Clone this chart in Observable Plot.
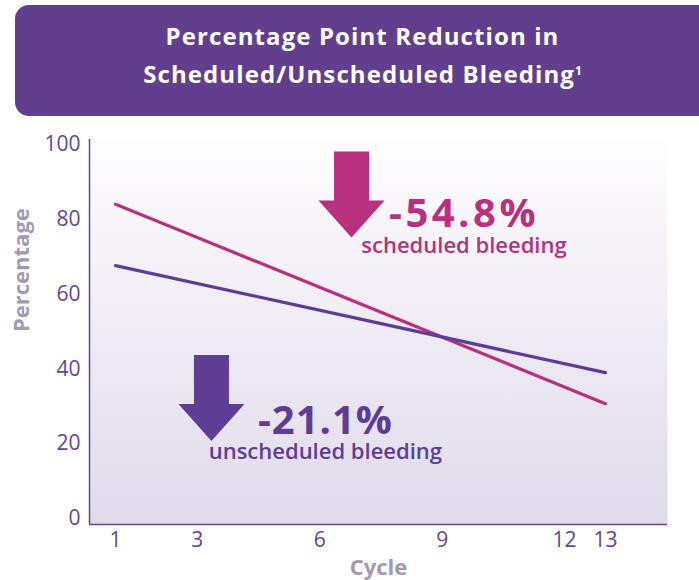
<!DOCTYPE html>
<html>
<head>
<meta charset="utf-8">
<script src="https://cdn.jsdelivr.net/npm/d3@7"></script>
<script src="https://cdn.jsdelivr.net/npm/@observablehq/plot@0.6"></script>
<style>
  html, body { margin: 0; padding: 0; background: #ffffff; }
  #wrap { position: relative; width: 699px; height: 580px; overflow: hidden; font-family: "Open Sans", sans-serif; }
  #chart { position: absolute; left: 0; top: 0; }
  #banner {
    position: absolute; left: 15px; top: 5px; width: 695px; height: 111px;
    background: #623F8E; border-radius: 14px 0 0 14px; color: #ffffff;
    font-family: "Open Sans", sans-serif; font-weight: 700; font-size: 24px; letter-spacing: 1.1px;
    text-align: center; line-height: 38px; box-sizing: border-box; padding-top: 12px;
  }
  #banner sup { font-size: 12px; vertical-align: top; position: relative; top: -3px; letter-spacing: 0; }
</style>
</head>
<body>
<div id="wrap">
  <div id="chart"></div>
  <div id="banner">
    <div>Percentage Point Reduction in</div>
    <div>Scheduled/Unscheduled Bleeding<sup>1</sup></div>
  </div>
</div>
<script>
// ---- data ----
const cycles = [1, 13];
const scheduledPct = [84.0, 30.7];
const unscheduledPct = [67.6, 39.0];
const seriesNames = ["scheduled bleeding", "unscheduled bleeding"];
const seriesColors = ["#B7317F", "#5E3D94"];
const changeLabels = ["-54.8%", "-21.1%"];
const changeSpacing = ["3.5px", "1px"];
const xTicks = [1, 3, 6, 9, 12, 13];
const yTicks = [0, 20, 40, 60, 80, 100];

// annotation anchors (data units)
const arrowX = [6.78, 3.35];
const arrowY = [86.6, 32.2];
const labelX = [9.535, 6.14];
const bigLabelY = [77.8, 22.7];
const smallLabelY = [70.9, 15.8];

const xDomain = [0.363, 14.52];
const yDomain = [-1.6, 101.3];

// ---- build tables ----
const lineData = [];
cycles.forEach((c, i) => {
  lineData.push({cycle: c, pct: scheduledPct[i], series: seriesNames[0]});
  lineData.push({cycle: c, pct: unscheduledPct[i], series: seriesNames[1]});
});
const annos = seriesNames.map((s, i) => ({
  series: s, color: seriesColors[i], change: changeLabels[i],
  ax: arrowX[i], ay: arrowY[i], lx: labelX[i], by: bigLabelY[i], sy: smallLabelY[i]
}));

const blockArrow = {
  draw(ctx) {
    ctx.moveTo(-17.5, -43);
    ctx.lineTo(17.5, -43);
    ctx.lineTo(17.5, 6);
    ctx.lineTo(33, 6);
    ctx.lineTo(0, 43);
    ctx.lineTo(-33, 6);
    ctx.lineTo(-17.5, 6);
    ctx.closePath();
  }
};

const axisColor = "#654599";
const titleGray = "#A29AB3";

const chart = Plot.plot({
  width: 699,
  height: 580,
  marginTop: 139,
  marginBottom: 56,
  marginLeft: 89,
  marginRight: 32,
  style: {fontFamily: "Open Sans, sans-serif", background: "transparent", overflow: "visible"},
  x: {domain: xDomain, axis: null},
  y: {domain: yDomain, axis: null},
  color: {domain: seriesNames, range: seriesColors},
  marks: [
    Plot.frame({fill: "url(#bgGrad)", stroke: null}),
    Plot.axisX({ticks: xTicks, tickSize: 0, tickPadding: 8, fontSize: 21, fill: axisColor, label: null, tickFormat: d => String(d)}),
    Plot.axisY({ticks: yTicks, tickSize: 0, tickPadding: 9, fontSize: 21, fill: axisColor, label: null, tickFormat: d => String(d)}),
    Plot.ruleX([xDomain[0]], {stroke: axisColor, strokeWidth: 1.5}),
    Plot.ruleY([yDomain[0]], {stroke: axisColor, strokeWidth: 1.5}),
    Plot.line(lineData, {x: "cycle", y: "pct", z: "series", stroke: "series", strokeWidth: 3.2}),
    Plot.dot(annos, {x: "ax", y: "ay", symbol: blockArrow, fill: "color", stroke: null, r: 10}),
    Plot.text(annos, {x: "lx", y: "by", text: "change", fill: "color", fontSize: 40, fontWeight: 700,
      textAnchor: "middle", lineAnchor: "bottom"}),
    Plot.text(annos, {x: "lx", y: "sy", text: "series", fill: "color", fontSize: 22, fontWeight: 600,
      textAnchor: "middle", lineAnchor: "bottom"}),
    Plot.text(["Cycle"], {frameAnchor: "bottom", dy: 43, text: d => d, fill: titleGray, fontSize: 22, fontWeight: 700, lineAnchor: "middle"}),
    Plot.text(["Percentage"], {frameAnchor: "left", dx: -68, rotate: -90, text: d => d, fill: titleGray, fontSize: 22, fontWeight: 700, lineAnchor: "middle"})
  ]
});

const defs = d3.select(chart).insert("defs", ":first-child");
const grad = defs.append("linearGradient").attr("id", "bgGrad").attr("x1", 0).attr("y1", 0).attr("x2", 0).attr("y2", 1);
grad.append("stop").attr("offset", 0).attr("stop-color", "#FEFDFF");
grad.append("stop").attr("offset", 1).attr("stop-color", "#E0DAEA");

// widen the big change labels' letter spacing (Gotham-like width)
d3.select(chart).selectAll("text").each(function() {
  const i = changeLabels.indexOf(this.textContent);
  if (i >= 0) this.style.letterSpacing = changeSpacing[i];
});

document.getElementById("chart").appendChild(chart);
</script>
</body>
</html>
